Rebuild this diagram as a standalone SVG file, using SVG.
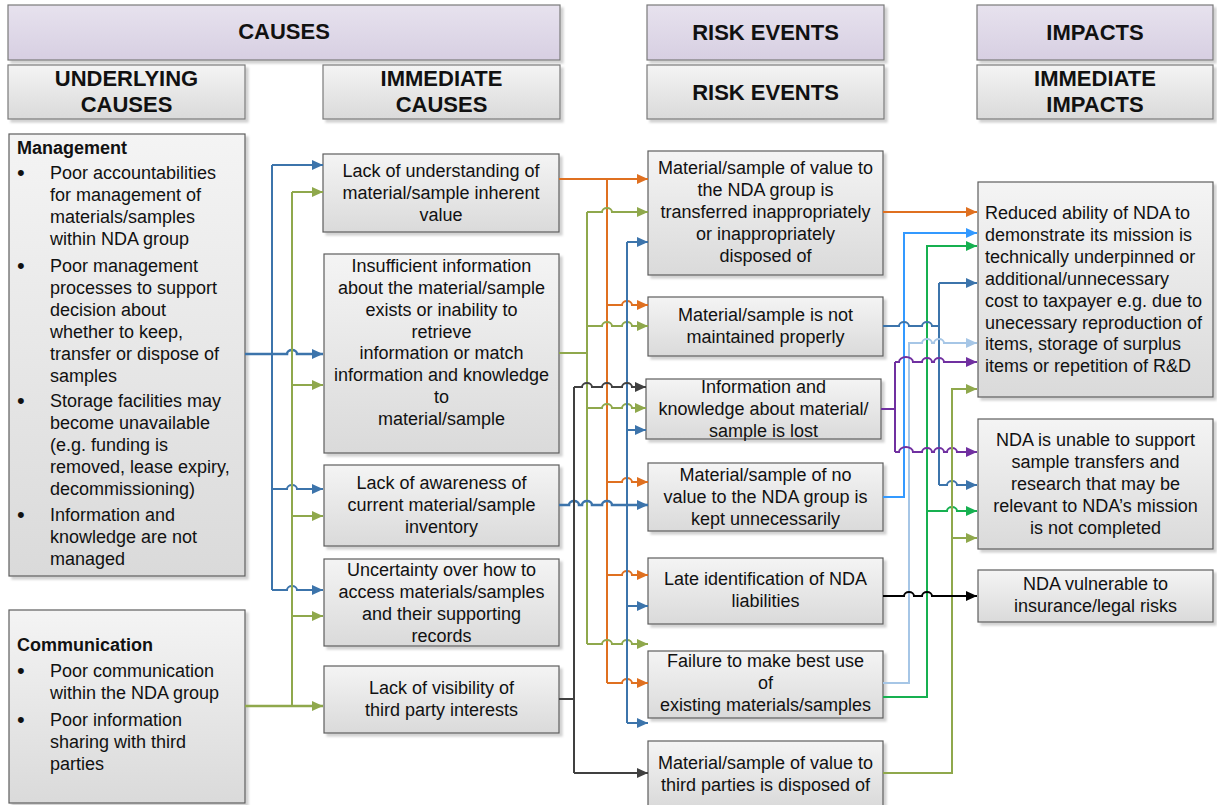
<svg xmlns="http://www.w3.org/2000/svg" width="1217" height="805" viewBox="0 0 1217 805">
<defs>
<linearGradient id="gGray" x1="0" y1="0" x2="0" y2="1"><stop offset="0" stop-color="#f4f4f4"/><stop offset="1" stop-color="#dadada"/></linearGradient>
<linearGradient id="gPurple" x1="0" y1="0" x2="0" y2="1"><stop offset="0" stop-color="#e7e2ee"/><stop offset="1" stop-color="#d7cfe2"/></linearGradient>
<filter id="sh" x="-5%" y="-5%" width="115%" height="115%"><feDropShadow dx="3" dy="3" stdDeviation="1.2" flood-color="#000" flood-opacity="0.18"/></filter>
<marker id="aBlue" markerUnits="userSpaceOnUse" markerWidth="12" markerHeight="10" refX="11" refY="5" orient="auto"><path class="mk" d="M0,0 L11,5 L0,10 z" fill="#3c74ab"/></marker>
<marker id="aOlive" markerUnits="userSpaceOnUse" markerWidth="12" markerHeight="10" refX="11" refY="5" orient="auto"><path class="mk" d="M0,0 L11,5 L0,10 z" fill="#8fa84c"/></marker>
<marker id="aOrange" markerUnits="userSpaceOnUse" markerWidth="12" markerHeight="10" refX="11" refY="5" orient="auto"><path class="mk" d="M0,0 L11,5 L0,10 z" fill="#df7020"/></marker>
<marker id="aGray" markerUnits="userSpaceOnUse" markerWidth="12" markerHeight="10" refX="11" refY="5" orient="auto"><path class="mk" d="M0,0 L11,5 L0,10 z" fill="#404040"/></marker>
<marker id="aSky" markerUnits="userSpaceOnUse" markerWidth="12" markerHeight="10" refX="11" refY="5" orient="auto"><path class="mk" d="M0,0 L11,5 L0,10 z" fill="#3399ff"/></marker>
<marker id="aGreen" markerUnits="userSpaceOnUse" markerWidth="12" markerHeight="10" refX="11" refY="5" orient="auto"><path class="mk" d="M0,0 L11,5 L0,10 z" fill="#16b050"/></marker>
<marker id="aPale" markerUnits="userSpaceOnUse" markerWidth="12" markerHeight="10" refX="11" refY="5" orient="auto"><path class="mk" d="M0,0 L11,5 L0,10 z" fill="#a6c6e6"/></marker>
<marker id="aPurple" markerUnits="userSpaceOnUse" markerWidth="12" markerHeight="10" refX="11" refY="5" orient="auto"><path class="mk" d="M0,0 L11,5 L0,10 z" fill="#7030a0"/></marker>
<marker id="aBlack" markerUnits="userSpaceOnUse" markerWidth="12" markerHeight="10" refX="11" refY="5" orient="auto"><path class="mk" d="M0,0 L11,5 L0,10 z" fill="#000"/></marker>
</defs>
<style>
.box{fill:url(#gGray);stroke:#5e5e5e;stroke-width:1.2;filter:url(#sh)}
.hdr{fill:url(#gPurple);stroke:#7a7a7a;stroke-width:1.2;filter:url(#sh)}
.sub{fill:url(#gGray);stroke:#7a7a7a;stroke-width:1.2;filter:url(#sh)}
text{font-family:"Liberation Sans",Arial,sans-serif;fill:#111}
.h{font-size:22px;font-weight:bold;text-anchor:middle}
.t{font-size:18px;text-anchor:middle}
.l{font-size:18px}
.bu{font-size:22px}
.b{font-size:18px;font-weight:bold}
#connectors path{fill:none;stroke-width:2}
.mk{stroke:none}
.blue{stroke:#3c74ab}
.olive{stroke:#8fa84c}
.orange{stroke:#df7020}
.gray{stroke:#404040}
.sky{stroke:#3399ff}
.green{stroke:#16b050}
.pale{stroke:#a6c6e6}
.purple{stroke:#7030a0}
.black{stroke:#000}
.ab{marker-end:url(#aBlue)}
.ao{marker-end:url(#aOlive)}
.aor{marker-end:url(#aOrange)}
.ag{marker-end:url(#aGray)}
.as{marker-end:url(#aSky)}
.agr{marker-end:url(#aGreen)}
.ap{marker-end:url(#aPale)}
.apu{marker-end:url(#aPurple)}
.abk{marker-end:url(#aBlack)}
</style>
<rect width="1217" height="805" fill="#fff"/>

<g id="hdr-causes"><rect class="hdr" x="8" y="5" width="552" height="55"/><text class="h" x="284" y="39">CAUSES</text></g>
<g id="hdr-risk"><rect class="hdr" x="647" y="5" width="237" height="55"/><text class="h" x="765.5" y="40">RISK EVENTS</text></g>
<g id="hdr-impacts"><rect class="hdr" x="977" y="5" width="236" height="55"/><text class="h" x="1095" y="40">IMPACTS</text></g>
<g id="hdr-underlying"><rect class="sub" x="8" y="65" width="237" height="54"/><text class="h"><tspan x="126.5" y="86">UNDERLYING</tspan><tspan x="126.5" y="112">CAUSES</tspan></text></g>
<g id="hdr-immediate"><rect class="sub" x="323" y="65" width="237" height="54"/><text class="h"><tspan x="441.5" y="86">IMMEDIATE</tspan><tspan x="441.5" y="112">CAUSES</tspan></text></g>
<g id="hdr-risk2"><rect class="sub" x="647" y="65" width="237" height="54"/><text class="h" x="765.5" y="100">RISK EVENTS</text></g>
<g id="hdr-immimpacts"><rect class="sub" x="977" y="65" width="236" height="54"/><text class="h"><tspan x="1095" y="86">IMMEDIATE</tspan><tspan x="1095" y="112">IMPACTS</tspan></text></g>

<g id="management"><rect class="box" x="9" y="134" width="236" height="442"/>
<text class="b" x="17" y="154">Management</text>
<text class="bu"><tspan x="17" y="180">•</tspan><tspan x="17" y="273">•</tspan><tspan x="17" y="408">•</tspan><tspan x="17" y="522">•</tspan></text>
<text class="l"><tspan x="50" y="179">Poor accountabilities</tspan><tspan x="50" y="201">for management of</tspan><tspan x="50" y="223">materials/samples</tspan><tspan x="50" y="245">within NDA group</tspan><tspan x="50" y="272">Poor management</tspan><tspan x="50" y="294">processes to support</tspan><tspan x="50" y="316">decision about</tspan><tspan x="50" y="338">whether to keep,</tspan><tspan x="50" y="360">transfer or dispose of</tspan><tspan x="50" y="382">samples</tspan><tspan x="50" y="407">Storage facilities may</tspan><tspan x="50" y="429">become unavailable</tspan><tspan x="50" y="451">(e.g. funding is</tspan><tspan x="50" y="473">removed, lease expiry,</tspan><tspan x="50" y="495">decommissioning)</tspan><tspan x="50" y="521">Information and</tspan><tspan x="50" y="543">knowledge are not</tspan><tspan x="50" y="565">managed</tspan></text></g>

<g id="communication"><rect class="box" x="9" y="610" width="236" height="193"/>
<text class="b" x="17" y="651">Communication</text>
<text class="bu"><tspan x="17" y="678">•</tspan><tspan x="17" y="727">•</tspan></text>
<text class="l"><tspan x="50" y="677">Poor communication</tspan><tspan x="50" y="699">within the NDA group</tspan><tspan x="50" y="726">Poor information</tspan><tspan x="50" y="748">sharing with third</tspan><tspan x="50" y="770">parties</tspan></text></g>

<g id="ic-understanding"><rect class="box" x="323" y="154" width="236" height="78"/><text class="t"><tspan x="441" y="177">Lack of understanding of</tspan><tspan x="441" y="199">material/sample inherent</tspan><tspan x="441" y="221">value</tspan></text></g>
<g id="ic-insufficient"><rect class="box" x="324" y="254" width="235" height="199"/><text class="t"><tspan x="441.5" y="272">Insufficient information</tspan><tspan x="441.5" y="294">about the material/sample</tspan><tspan x="441.5" y="316">exists or inability to</tspan><tspan x="441.5" y="338">retrieve</tspan><tspan x="441.5" y="359">information or match</tspan><tspan x="441.5" y="381">information and knowledge</tspan><tspan x="441.5" y="403">to</tspan><tspan x="441.5" y="425">material/sample</tspan></text></g>
<g id="ic-awareness"><rect class="box" x="324" y="465" width="235" height="81"/><text class="t"><tspan x="441.5" y="489">Lack of awareness of</tspan><tspan x="441.5" y="511">current material/sample</tspan><tspan x="441.5" y="533">inventory</tspan></text></g>
<g id="ic-uncertainty"><rect class="box" x="324" y="559" width="235" height="87"/><text class="t"><tspan x="441.5" y="576">Uncertainty over how to</tspan><tspan x="441.5" y="598">access materials/samples</tspan><tspan x="441.5" y="620">and their supporting</tspan><tspan x="441.5" y="642">records</tspan></text></g>
<g id="ic-visibility"><rect class="box" x="324" y="666" width="235" height="67"/><text class="t"><tspan x="441.5" y="694">Lack of visibility of</tspan><tspan x="441.5" y="716">third party interests</tspan></text></g>

<g id="re-transferred"><rect class="box" x="648" y="151" width="235" height="124"/><text class="t"><tspan x="765.5" y="174">Material/sample of value to</tspan><tspan x="765.5" y="196">the NDA group is</tspan><tspan x="765.5" y="218">transferred inappropriately</tspan><tspan x="765.5" y="240">or inappropriately</tspan><tspan x="765.5" y="262">disposed of</tspan></text></g>
<g id="re-maintained"><rect class="box" x="648" y="297" width="235" height="59"/><text class="t"><tspan x="765.5" y="321">Material/sample is not</tspan><tspan x="765.5" y="343">maintained properly</tspan></text></g>
<g id="re-lost"><rect class="box" x="646" y="379" width="235" height="60"/><text class="t"><tspan x="763.5" y="393">Information and</tspan><tspan x="763.5" y="415">knowledge about material/</tspan><tspan x="763.5" y="437">sample is lost</tspan></text></g>
<g id="re-novalue"><rect class="box" x="648" y="463" width="235" height="68"/><text class="t"><tspan x="765.5" y="481">Material/sample of no</tspan><tspan x="765.5" y="503">value to the NDA group is</tspan><tspan x="765.5" y="525">kept unnecessarily</tspan></text></g>
<g id="re-late"><rect class="box" x="648" y="558" width="235" height="66"/><text class="t"><tspan x="765.5" y="585">Late identification of NDA</tspan><tspan x="765.5" y="607">liabilities</tspan></text></g>
<g id="re-failure"><rect class="box" x="648" y="651" width="235" height="67"/><text class="t"><tspan x="765.5" y="667">Failure to make best use</tspan><tspan x="765.5" y="689">of</tspan><tspan x="765.5" y="711">existing materials/samples</tspan></text></g>
<g id="re-thirdparty"><rect class="box" x="648" y="741" width="235" height="66"/><text class="t"><tspan x="765.5" y="769">Material/sample of value to</tspan><tspan x="765.5" y="791">third parties is disposed of</tspan></text></g>

<g id="im-reduced"><rect class="box" x="978" y="182" width="235" height="215"/><text class="l"><tspan x="985" y="219">Reduced ability of NDA to</tspan><tspan x="985" y="241">demonstrate its mission is</tspan><tspan x="985" y="263">technically underpinned or</tspan><tspan x="985" y="285">additional/unnecessary</tspan><tspan x="985" y="307">cost to taxpayer e.g. due to</tspan><tspan x="985" y="329">unecessary reproduction of</tspan><tspan x="985" y="350">items, storage of surplus</tspan><tspan x="985" y="372">items or repetition of R&amp;D</tspan></text></g>
<g id="im-unable"><rect class="box" x="978" y="419" width="235" height="130"/><text class="t"><tspan x="1095.5" y="446">NDA is unable to support</tspan><tspan x="1095.5" y="468">sample transfers and</tspan><tspan x="1095.5" y="490">research that may be</tspan><tspan x="1095.5" y="512">relevant to NDA’s mission</tspan><tspan x="1095.5" y="534">is not completed</tspan></text></g>
<g id="im-vulnerable"><rect class="box" x="978" y="570" width="235" height="52"/><text class="t"><tspan x="1095.5" y="590">NDA vulnerable to</tspan><tspan x="1095.5" y="612">insurance/legal risks</tspan></text></g>

<g id="connectors">
<path class="blue" d="M272,165 V590"/>
<path class="blue ab" d="M245,354 H287 a5,4 0 0 1 10,0 H323" style="stroke-width:2.5"/>
<path class="blue ab" d="M272,165 H323"/>
<path class="blue ab" d="M272,489 H287 a5,4 0 0 1 10,0 H323"/>
<path class="blue ab" d="M272,590 H287 a5,4 0 0 1 10,0 H323"/>
<path class="olive" d="M292,192 V706"/>
<path class="olive ao" d="M245,706 H323" style="stroke-width:2.5"/>
<path class="olive ao" d="M292,192 H323"/>
<path class="olive ao" d="M292,385 H323"/>
<path class="olive ao" d="M292,516 H323"/>
<path class="olive ao" d="M292,616 H323"/>
<path class="orange" d="M607,179 V683"/>
<path class="orange aor" d="M559,179 H648"/>
<path class="orange aor" d="M607,305 H622 a5,4 0 0 1 10,0 H648"/>
<path class="orange aor" d="M607,482 H622 a5,4 0 0 1 10,0 H648"/>
<path class="orange aor" d="M607,575 H622 a5,4 0 0 1 10,0 H648"/>
<path class="orange aor" d="M607,683 H622 a5,4 0 0 1 10,0 H648"/>
<path class="olive" d="M559,353 H587 M587,212 V644"/>
<path class="olive ao" d="M587,212 H602 a5,4 0 0 1 10,0 H648"/>
<path class="olive ao" d="M587,326 H602 a5,4 0 0 1 10,0 H622 a5,4 0 0 1 10,0 H648"/>
<path class="olive ao" d="M587,408 H602 a5,4 0 0 1 10,0 H622 a5,4 0 0 1 10,0 H646"/>
<path class="olive ao" d="M587,644 H602 a5,4 0 0 1 10,0 H622 a5,4 0 0 1 10,0 H648"/>
<path class="blue" d="M627,242 V723"/>
<path class="blue ab" d="M559,505 H569 a5,4 0 0 1 10,0 H582 a5,4 0 0 1 10,0 H602 a5,4 0 0 1 10,0 H648" style="stroke-width:2.5"/>
<path class="blue ab" d="M627,242 H648"/>
<path class="blue ab" d="M627,430 H646"/>
<path class="blue ab" d="M627,606 H648"/>
<path class="blue ab" d="M627,723 H648"/>
<path class="gray" d="M559,699 H574 M574,387 V773"/>
<path class="gray ag" d="M574,387 H582 a5,4 0 0 1 10,0 H602 a5,4 0 0 1 10,0 H622 a5,4 0 0 1 10,0 H646"/>
<path class="gray ag" d="M574,773 H648"/>
<path class="orange aor" d="M883,212 H977"/>
<path class="sky as" d="M883,497 H904 V233 H977"/>
<path class="green agr" d="M883,697 H927 V246 H977"/>
<path class="green agr" d="M927,511 H947 a5,4 0 0 1 10,0 H977"/>
<path class="blue" d="M883,326 H899 a5,4 0 0 1 10,0 H922 a5,4 0 0 1 10,0 H939 M939,283 V485"/>
<path class="blue ab" d="M939,283 H977"/>
<path class="blue ab" d="M939,485 H947 a5,4 0 0 1 10,0 H977"/>
<path class="pale ap" d="M883,683 H909 V343 H922 a5,4 0 0 1 10,0 H934 a5,4 0 0 1 10,0 H977"/>
<path class="purple" d="M881,409 H895 M895,362 V452"/>
<path class="purple apu" d="M895,362 H899 a7,5 0 0 1 14,0 H922 a5,4 0 0 1 10,0 H934 a5,4 0 0 1 10,0 H977"/>
<path class="purple apu" d="M895,452 H899 a7,5 0 0 1 14,0 H922 a5,4 0 0 1 10,0 H934 a5,4 0 0 1 10,0 H947 a5,4 0 0 1 10,0 H977"/>
<path class="olive ao" d="M883,773 H952 V389 H977"/>
<path class="olive ao" d="M952,538 H977"/>
<path class="black abk" d="M883,596 H904 a5,4 0 0 1 10,0 H922 a5,4 0 0 1 10,0 H977"/>
</g>
</svg>
